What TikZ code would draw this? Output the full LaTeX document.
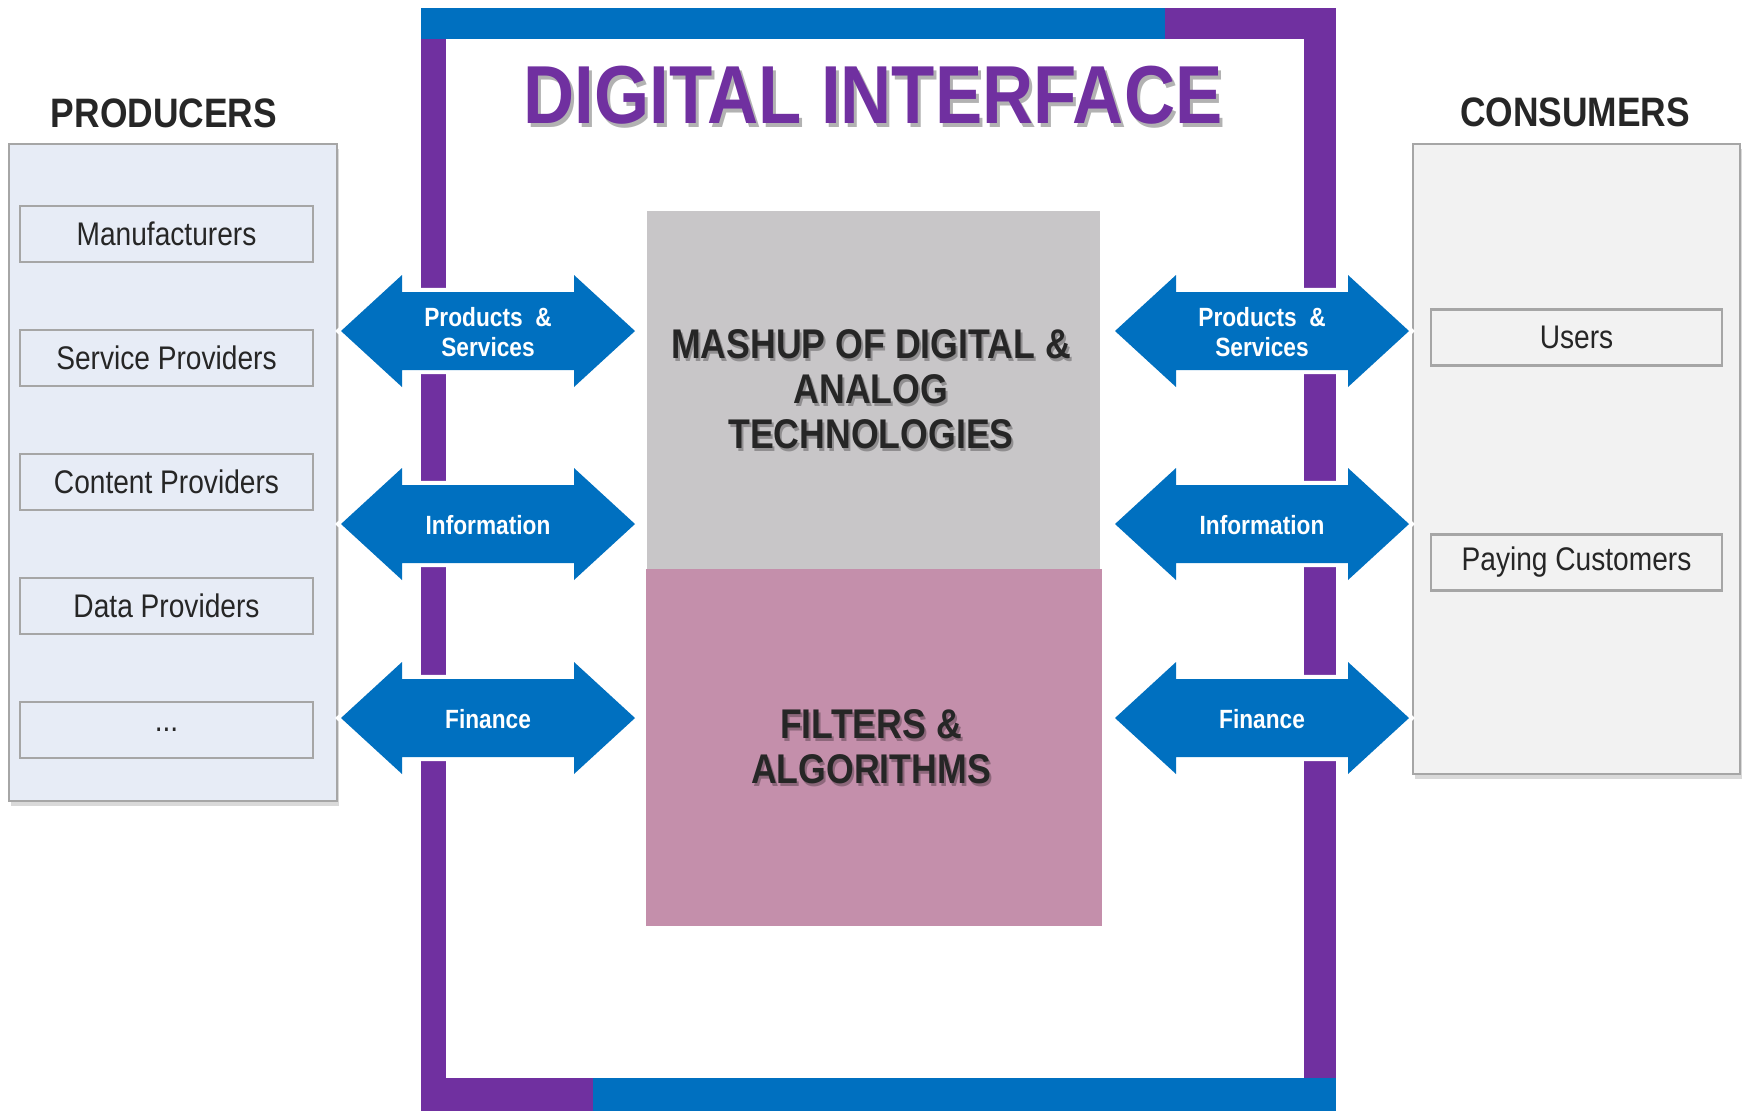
\documentclass[tikz,border=0pt]{standalone}
\usepackage{fontspec}
\setmainfont{Liberation Sans}[FakeStretch=0.86]
\usetikzlibrary{shadows}
\definecolor{fblue}{HTML}{0070C0}
\definecolor{fpurple}{HTML}{7030A0}
\definecolor{prodfill}{HTML}{E7ECF6}
\definecolor{consfill}{HTML}{F2F2F2}
\definecolor{panelline}{HTML}{A6A6A6}
\definecolor{techgray}{HTML}{C8C6C8}
\definecolor{algopink}{HTML}{C48FAB}
\definecolor{txt}{HTML}{262626}
\begin{document}
\begin{tikzpicture}[x=0.01cm,y=-0.01cm,
  panel/.style={draw=panelline, line width=0.6pt, drop shadow={shadow xshift=0.6pt, shadow yshift=-1.4pt, opacity=0.3}},
  item/.style={draw=panelline, line width=0.7pt, minimum height=0.56cm, inner sep=0pt, text=txt, font=\fontsize{9.3}{11}\selectfont},
  head/.style={text=txt, font=\bfseries\fontsize{11.7}{14}\selectfont},
  blk/.style={inner sep=0pt, outer sep=0pt},
  bigtxt/.style={align=center, text=txt, font=\bfseries\fontsize{11.8}{12.8}\selectfont},
  bigshadow/.style={align=center, text=black, opacity=0.28, font=\bfseries\fontsize{11.8}{12.8}\selectfont},
  arrowfill/.style={fill=fblue, preaction={draw=white, line width=2.3pt, line join=miter}},
  arrowtxt/.style={align=center, text=white, font=\bfseries\fontsize{7.5}{8.6}\selectfont}
]
\useasboundingbox (0,0) rectangle (1749,1117);

% frame
\fill[fblue] (421,8) rectangle (1165,39);
\fill[fpurple] (1165,8) rectangle (1336,39);
\fill[fpurple] (421,39) rectangle (446,1078);
\fill[fpurple] (1304,39) rectangle (1336,1078);
\fill[fpurple] (421,1078) rectangle (593,1111);
\fill[fblue] (593,1078) rectangle (1336,1111);

% title
\node[blk, text=black, opacity=0.3, font=\bfseries\fontsize{23.4}{27}\selectfont] (titleshadow) at (876,99) {DIGITAL INTERFACE};
\node[blk, text=fpurple, font=\bfseries\fontsize{23.4}{27}\selectfont] (title) at (873,95) {DIGITAL INTERFACE};

% producers
\node[head] (prodhead) at (164,113) {PRODUCERS};
\node[panel, fill=prodfill, minimum width=3.28cm, minimum height=6.57cm, blk] (prod) at (173,472.5) {};
\node[item, minimum width=2.93cm] (manu) at (166.5,234) {Manufacturers};
\node[item, minimum width=2.93cm] (serv) at (166.5,358) {Service Providers};
\node[item, minimum width=2.93cm] (cont) at (166.5,482) {Content Providers};
\node[item, minimum width=2.93cm] (data) at (166.5,606) {Data Providers};
\node[item, minimum width=2.93cm] (more) at (166.5,730) {...};

% consumers
\node[head] (conshead) at (1575,112) {CONSUMERS};
\node[panel, fill=consfill, minimum width=3.27cm, minimum height=6.30cm, blk] (cons) at (1576.5,459) {};
\node[item, minimum width=2.91cm] (users) at (1576.5,337.5) {Users};
\node[item, minimum width=2.91cm] (paying) at (1576.5,562.5) {Paying Customers};

% center boxes
\node[blk, fill=techgray, minimum width=4.53cm, minimum height=3.58cm] (tech) at (873.5,390) {};
\node[blk, fill=algopink, minimum width=4.56cm, minimum height=3.57cm] (algo) at (874,747.5) {};
\node[bigshadow] (techshadow) at (873,392) {MASHUP OF DIGITAL \&\\ANALOG\\TECHNOLOGIES};
\node[bigtxt] (techtxt) at (871,389) {MASHUP OF DIGITAL \&\\ANALOG\\TECHNOLOGIES};
\node[bigshadow] (algoshadow) at (873,750) {FILTERS \&\\ALGORITHMS};
\node[bigtxt] (algotxt) at (871,747) {FILTERS \&\\ALGORITHMS};

% block arrows
\foreach \L/\side in {341/l,1115/r}{
  \foreach \c/\t/\n in {331/{Products\ \ \&\\Services}/ps, 524/Information/inf, 718/Finance/fin}{
    \pgfmathsetmacro{\R}{\L+294}
    \path[arrowfill] (\L,\c) -- (\L+61,\c-56) -- (\L+61,\c-39) -- (\R-61,\c-39) -- (\R-61,\c-56)
      -- (\R,\c) -- (\R-61,\c+56) -- (\R-61,\c+39) -- (\L+61,\c+39) -- (\L+61,\c+56) -- cycle;
    \node[arrowtxt] (\side\n) at (\L+147,\c+1) {\t};
  }
}
\end{tikzpicture}
\end{document}
